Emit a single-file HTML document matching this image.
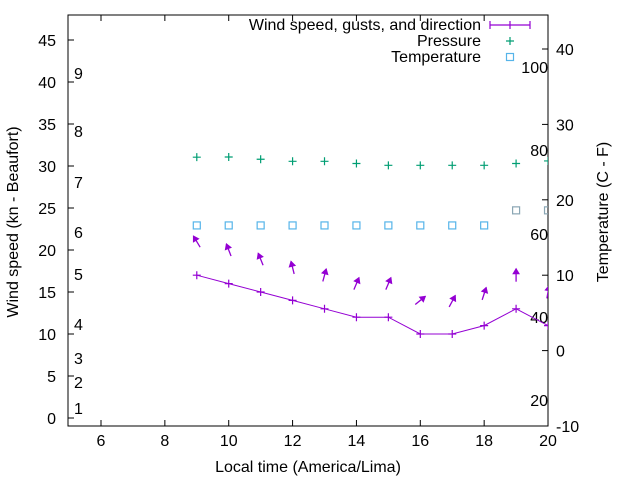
<!DOCTYPE html>
<html><head><meta charset="utf-8"><style>
html,body{margin:0;padding:0;background:#fff}
svg{display:block;font-family:"Liberation Sans",Arial,sans-serif}
text{font-size:16px;fill:#000}
</style></head><body>
<svg id="c" width="640" height="480"></svg>
<script>
const hours=[9,10,11,12,13,14,15,16,17,18,19,20];
const windSpeed=[17,16,15,14,13,12,12,10,10,11,13,11];
const gusts=[21,20,18.9,17.9,17,16,16,14,13.9,14.8,17,15];
const windDir=[-31,-21,-22,-14,15,23,23,51,28,18,0,10];
const pressure=[31.05,31.07,30.8,30.56,30.56,30.3,30.08,30.08,30.08,30.08,30.3,30.6];
const temperature=[16.6,16.6,16.6,16.6,16.6,16.6,16.6,16.6,16.6,16.6,18.6,18.6];
const xTicks=[6,8,10,12,14,16,18,20];
const yTicks=[0,5,10,15,20,25,30,35,40,45];
const y2Ticks=[-10,0,10,20,30,40];
const beaufort=[[1,408],[2,382],[3,358],[4,324],[5,274],[6,232],[7,182],[8,131],[9,73]];
const fahr=[[20,400],[40,317],[60,234],[80,150],[100,67]];

const L=68,R=548,T=15,B=426;
const X=v=>101+(v-6)*31.93;
const Y=v=>418-v*8.4;
const Y2=v=>350.6-v*7.54;
const svg=document.getElementById('c');
const NS='http://www.w3.org/2000/svg';
function mk(tag,attrs,parent){const e=document.createElementNS(NS,tag);for(const k in attrs)e.setAttribute(k,attrs[k]);(parent||svg).appendChild(e);return e;}
function txt(s,x,y,anchor,name,extra){const t=mk('text',Object.assign({x:x,y:y,'text-anchor':anchor||'middle'},extra||{}));t.textContent=s;


return t;}

const fr=mk('rect',{x:L,y:T,width:R-L,height:B-T,fill:'none',stroke:'#000','stroke-width':1});


const clip=mk('clipPath',{id:'cp'});mk('rect',{x:L,y:T,width:R-L,height:B-T},clip);

xTicks.forEach(v=>{const x=X(v);
 mk('line',{x1:x,y1:B,x2:x,y2:B-6,stroke:'#000'});mk('line',{x1:x,y1:T,x2:x,y2:T+6,stroke:'#000'});
 txt(String(v),x,B+20,'middle','x-tick-label');});
yTicks.forEach(v=>{const y=Y(v);
 mk('line',{x1:L,y1:y,x2:L+6,y2:y,stroke:'#000'});
 txt(String(v),56,y+6,'end','y-tick-label');});
y2Ticks.forEach(v=>{const y=Y2(v);
 mk('line',{x1:R,y1:y,x2:R-6,y2:y,stroke:'#000'});
 txt(String(v),556,y+6,'start','y2-tick-label');});
beaufort.forEach(b=>txt(String(b[0]),74,b[1]+6,'start','beaufort-label'));
fahr.forEach(f=>txt(String(f[0]),548,f[1]+6,'end','fahrenheit-label'));

txt('Local time (America/Lima)',308,472,'middle','x-axis-title');
txt('Wind speed (kn - Beaufort)',18,222,'middle','y-axis-title',{transform:'rotate(-90 18 222)'});
txt('Temperature (C - F)',608,212,'middle','y2-axis-title',{transform:'rotate(-90 608 212)'});

const g=mk('g',{'clip-path':'url(#cp)'});
const pts=hours.map((h,i)=>X(h)+','+Y(windSpeed[i])).join(' ');
const pl=mk('polyline',{points:pts,fill:'none',stroke:'#9400d3','stroke-width':1},g);


function plus(x,y,c,name){const p=mk('path',{d:`M${x-4},${y}h8M${x},${y-4}v8`,stroke:c,'stroke-width':1.2,fill:'none'},g);

}
hours.forEach((h,i)=>plus(X(h),Y(windSpeed[i]),'#9400d3','wind-speed-point'));
hours.forEach((h,i)=>{const cx=X(h),cy=Y(gusts[i]);const a=windDir[i]*Math.PI/180;const len=13;
 const dx=Math.sin(a)*len,dy=-Math.cos(a)*len;
 const hx=cx+dx/2,hy=cy+dy/2,tx=cx-dx/2,ty=cy-dy/2;
 const ux=dx/len,uy=dy/len,px=-uy,py=ux;
 const grp=mk('g',{},g);
 
 
 mk('line',{x1:tx,y1:ty,x2:hx,y2:hy,stroke:'#9400d3','stroke-width':1.3},grp);
 const bx=hx-ux*5,by=hy-uy*5;
 mk('polygon',{points:`${hx},${hy} ${bx+px*3},${by+py*3} ${bx-px*3},${by-py*3}`,fill:'#9400d3',stroke:'#9400d3'},grp);
});
hours.forEach((h,i)=>plus(X(h),Y(pressure[i]),'#009e73','pressure-point'));
hours.forEach((h,i)=>{const s=mk('rect',{x:X(h)-3.5,y:Y2(temperature[i])-3.5,width:7,height:7,fill:'none',stroke:i>=10?'#8aa6b4':'#56b4e9','stroke-width':1.2},g);

});

txt('Wind speed, gusts, and direction',481,30,'end','legend-wind-label');
txt('Pressure',481,46,'end','legend-pressure-label');
txt('Temperature',481,62,'end','legend-temperature-label');
const lw=mk('path',{d:'M490,25h40M490,21v8M530,21v8M510,21v8',stroke:'#9400d3','stroke-width':1.2,fill:'none'});


const lp=mk('path',{d:'M506,41h8M510,37v8',stroke:'#009e73','stroke-width':1.2,fill:'none'});


const lt=mk('rect',{x:506.5,y:53.5,width:7,height:7,fill:'none',stroke:'#56b4e9','stroke-width':1.2});


</script>
</body></html>
